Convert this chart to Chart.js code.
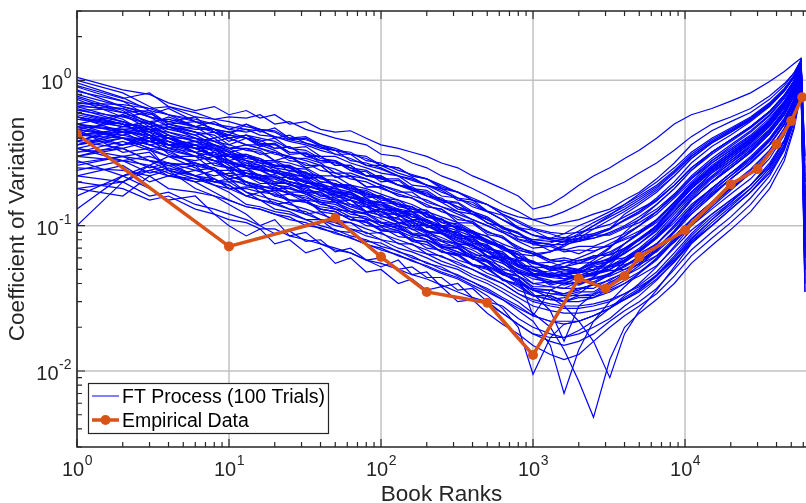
<!DOCTYPE html>
<html>
<head>
<meta charset="utf-8">
<script src="https://cdn.jsdelivr.net/npm/chart.js@4.4.1/dist/chart.umd.min.js"></script>
<style>
  html, body { margin: 0; padding: 0; background: #fff; }
</style>
</head>
<body>
<canvas id="cvChart" width="806" height="503"></canvas>
<script>
// rank grid shared by every simulated trial
const ranks = [1, 2, 3, 4, 6, 8, 10,
  13, 16, 20, 25, 32, 40, 50, 63, 80, 100, 130, 160, 200, 250, 320, 400, 500, 630, 800, 1000, 1300, 1600, 2000, 2500, 3200,
  4000, 5000, 6500, 8500, 11000, 15000, 20000, 27000, 36000, 45000, 52000, 58000,
  61500];

// FT process trials, coefficient of variation per rank (estimated from the figure)
const ftTrials = [
  [1.05,.86,.80,.70,.62,.66,.58, .62,.55,.58,.50,.52,.46,.44,.45,.40,.36,.34,.32,.30,.27,.25,.22,.20,.18,.16,.13,.14,.16,.19,.22,.25, .29,.33,.40,.50,.58,.64,.72,.82,.98,1.15,1.3,1.42, .2],
  [.92,.75,.82,.66,.60,.54,.56, .55,.58,.50,.52,.46,.43,.40,.38,.36,.31,.30,.27,.25,.22,.20,.18,.16,.14,.125,.11,.10,.105,.11,.12,.13, .15,.17,.21,.27,.36,.45,.52,.60,.74,.92,1.12,1.38, .15],
  [.80,.66,.58,.64,.52,.50,.46, .50,.44,.47,.40,.41,.36,.34,.31,.30,.26,.25,.22,.21,.18,.17,.15,.14,.12,.105,.094,.088,.082,.085,.088,.096, .11,.125,.155,.20,.27,.35,.42,.52,.66,.84,1.04,1.34, .3],
  [.42,.58,.50,.56,.48,.52,.46, .44,.46,.40,.42,.37,.34,.33,.28,.27,.25,.22,.21,.19,.175,.15,.145,.125,.11,.098,.086,.08,.076,.08,.082,.09, .10,.115,.14,.18,.24,.31,.38,.47,.60,.78,.98,1.3, .1],
  [.70,.64,.56,.52,.56,.44,.40, .42,.38,.40,.34,.33,.29,.28,.25,.24,.21,.21,.18,.175,.15,.145,.125,.115,.098,.09,.077,.074,.068,.072,.072,.08, .088,.10,.12,.155,.20,.27,.33,.41,.53,.70,.90,1.22, .05],
  [1.0,.82,.66,.58,.48,.46,.40, .36,.34,.31,.30,.26,.26,.215,.22,.185,.185,.16,.155,.135,.13,.105,.104,.087,.083,.068,.064,.056,.058,.055,.062,.063, .07,.08,.098,.13,.17,.22,.28,.35,.46,.62,.82,1.15, .08],
  [.62,.64,.50,.46,.48,.40,.42, .40,.36,.37,.32,.31,.30,.26,.26,.22,.22,.19,.18,.165,.15,.135,.125,.11,.098,.088,.078,.074,.074,.078,.085,.095, .12,.14,.17,.22,.29,.37,.44,.54,.68,.86,1.06,1.34, .12],
  [.56,.48,.52,.44,.38,.40,.34, .34,.31,.32,.28,.27,.24,.23,.21,.20,.18,.165,.155,.14,.125,.115,.104,.092,.082,.072,.064,.058,.056,.055,.056,.058, .06,.068,.082,.105,.14,.18,.23,.30,.40,.55,.74,1.08, .2],
  [.48,.46,.40,.42,.34,.35,.30, .30,.28,.26,.25,.22,.22,.19,.19,.16,.155,.14,.135,.115,.11,.095,.092,.078,.072,.06,.057,.049,.052,.049,.055,.056, .064,.075,.092,.125,.17,.23,.28,.36,.48,.64,.85,1.16, .06],
  [.36,.44,.42,.34,.36,.30,.31, .30,.28,.26,.26,.23,.22,.19,.19,.165,.16,.14,.135,.12,.11,.10,.09,.08,.072,.063,.056,.052,.05,.049,.05,.052, .054,.058,.066,.085,.11,.145,.18,.23,.32,.45,.64,.98, .035],
  [.54,.50,.42,.40,.36,.30,.28, .25,.22,.225,.20,.185,.18,.155,.16,.14,.12,.12,.10,.10,.09,.078,.074,.062,.06,.049,.045,.042,.039,.041,.041,.047, .052,.06,.074,.10,.135,.18,.23,.29,.39,.53,.72,1.05, .09],
  [.46,.40,.38,.40,.32,.28,.27, .23,.21,.21,.19,.18,.16,.155,.135,.135,.115,.113,.094,.093,.078,.076,.063,.062,.05,.048,.04,.041,.04,.044,.047,.057, .068,.08,.10,.135,.185,.25,.31,.39,.52,.70,.90,1.2, .15],
  [.32,.38,.33,.30,.30,.28,.27, .27,.26,.23,.23,.20,.195,.17,.17,.145,.145,.125,.125,.105,.10,.087,.083,.07,.066,.054,.052,.045,.047,.044,.048,.05, .058,.067,.083,.11,.15,.20,.25,.32,.43,.58,.78,1.1, .07],
  [.44,.36,.40,.31,.27,.25,.22, .20,.19,.175,.17,.15,.145,.13,.125,.11,.105,.095,.088,.08,.072,.066,.06,.053,.047,.041,.036,.034,.033,.033,.034,.036, .04,.045,.053,.07,.093,.12,.15,.19,.27,.39,.58,.93, .25],
  [.30,.28,.30,.27,.26,.27,.25, .26,.25,.23,.22,.195,.195,.165,.17,.14,.145,.12,.125,.10,.10,.085,.083,.069,.066,.053,.052,.046,.049,.047,.053,.057, .068,.08,.10,.135,.18,.24,.30,.38,.50,.67,.88,1.18, .04],
  [.64,.52,.44,.40,.34,.30,.26, .22,.21,.18,.18,.165,.145,.14,.125,.12,.104,.10,.087,.085,.072,.07,.059,.056,.046,.043,.036,.036,.034,.037,.037,.043, .047,.055,.068,.09,.12,.16,.21,.27,.36,.50,.70,1.02, .1],
  [.26,.30,.25,.27,.24,.22,.23, .22,.215,.195,.195,.17,.17,.145,.15,.125,.125,.105,.104,.09,.088,.075,.073,.061,.058,.047,.045,.039,.041,.039,.043,.045, .05,.057,.07,.092,.125,.165,.21,.27,.36,.50,.70,1.02, .18],
  [.22,.26,.20,.22,.21,.19,.18, .185,.18,.16,.15,.145,.13,.125,.11,.106,.093,.09,.08,.077,.066,.063,.054,.051,.043,.039,.033,.033,.03,.033,.033,.039, .045,.053,.067,.092,.13,.175,.22,.29,.39,.53,.72,1.04, .06],
  [.16,.22,.26,.30,.28,.30,.27, .26,.24,.24,.21,.205,.18,.175,.155,.155,.13,.128,.115,.108,.093,.09,.076,.072,.061,.056,.047,.046,.043,.045,.046,.053, .06,.07,.088,.12,.16,.215,.27,.35,.46,.62,.83,1.13, .13],
  [.10,.20,.26,.22,.24,.25,.22, .23,.22,.20,.195,.175,.17,.15,.15,.125,.13,.105,.108,.091,.09,.075,.074,.062,.058,.048,.046,.04,.042,.04,.044,.046, .053,.061,.075,.10,.135,.18,.23,.29,.39,.53,.72,1.05, .05],
  [.50,.44,.36,.32,.27,.24,.21, .17,.16,.15,.14,.13,.12,.11,.105,.095,.088,.08,.074,.068,.061,.056,.05,.045,.04,.034,.03,.028,.027,.027,.028,.03, .034,.039,.048,.065,.088,.12,.15,.19,.26,.38,.56,.9, .22],
  [.34,.30,.32,.24,.22,.21,.18, .16,.15,.14,.13,.125,.11,.105,.095,.09,.08,.076,.068,.064,.057,.052,.046,.042,.037,.032,.028,.026,.025,.025,.026,.028, .031,.035,.043,.056,.076,.10,.13,.17,.23,.34,.52,.87, .08],
  [.76,.60,.52,.46,.42,.36,.33, .28,.27,.24,.23,.215,.185,.185,.155,.155,.135,.13,.115,.11,.094,.09,.078,.074,.062,.058,.049,.048,.045,.048,.049,.057, .065,.075,.094,.125,.17,.23,.29,.37,.49,.65,.86,1.16, .11],
  [.42,.44,.46,.40,.36,.36,.32, .34,.33,.28,.30,.25,.26,.215,.22,.185,.185,.16,.155,.135,.13,.11,.107,.09,.085,.07,.066,.058,.06,.057,.062,.063, .07,.079,.096,.125,.165,.215,.27,.34,.45,.61,.81,1.12, .16],
  [.62,.56,.50,.42,.38,.36,.32, .30,.27,.275,.235,.235,.20,.195,.18,.17,.15,.145,.125,.123,.10,.099,.085,.08,.068,.063,.052,.051,.047,.048,.046,.049, .05,.054,.062,.077,.10,.13,.165,.21,.29,.42,.62,.97, .07],
  [.38,.34,.28,.27,.22,.19,.17, .14,.135,.125,.12,.11,.1,.094,.085,.08,.072,.067,.06,.056,.05,.046,.041,.037,.032,.028,.024,.022,.021,.022,.024,.027, .031,.036,.045,.06,.082,.11,.145,.19,.26,.38,.57,.92, .12],
  [.46,.32,.34,.24,.18,.16,.14, .12,.10,.11,.085,.09,.075,.07,.065,.058,.052,.058,.046,.048,.038,.04,.032,.03,.025,.021,.018,.016,.015,.016,.018,.022, .026,.03,.037,.05,.068,.09,.115,.155,.22,.33,.51,.86, .035],
  [.28,.22,.18,.15,.16,.12,.10, .085,.095,.075,.08,.065,.07,.055,.06,.048,.05,.04,.043,.036,.038,.03,.031,.025,.021,.018,.015,.013,.012,.013,.016,.02, .024,.028,.034,.045,.062,.082,.105,.14,.2,.3,.48,.84, .09],
  [.66,.54,.42,.36,.30,.24,.20, .17,.15,.145,.13,.12,.11,.10,.095,.085,.08,.07,.066,.06,.054,.05,.044,.04,.035,.03,.025,.02,.014,.0085,.0048,.012, .02,.025,.031,.04,.055,.073,.094,.125,.18,.28,.46,.82, .2],
  [.34,.28,.26,.23,.20,.17,.15, .135,.13,.12,.115,.10,.097,.088,.083,.074,.07,.062,.058,.052,.047,.043,.038,.033,.027,.02,.0095,.017,.021,.022,.024,.027, .031,.036,.045,.06,.08,.11,.14,.18,.25,.36,.55,.9, .06],
  [.56,.50,.42,.36,.34,.30,.28, .25,.245,.215,.215,.185,.19,.16,.165,.135,.14,.115,.12,.097,.098,.082,.081,.066,.064,.052,.05,.045,.047,.047,.054,.06, .075,.088,.11,.145,.195,.26,.32,.40,.53,.71,.92,1.24, .13],
  [.36,.42,.46,.44,.40,.38,.36, .40,.35,.365,.31,.315,.27,.275,.24,.235,.20,.205,.175,.17,.145,.143,.12,.113,.095,.089,.074,.072,.066,.068,.067,.073, .08,.088,.105,.135,.18,.235,.29,.37,.49,.65,.86,1.16, .1],
  [.86,.66,.60,.50,.44,.38,.34, .30,.29,.255,.255,.215,.215,.185,.185,.155,.16,.135,.135,.114,.11,.094,.09,.076,.072,.058,.056,.049,.05,.048,.052,.053, .058,.064,.075,.097,.13,.17,.22,.28,.38,.52,.71,1.04, .14],
  [.25,.24,.22,.24,.21,.20,.20, .20,.185,.185,.165,.16,.14,.135,.12,.115,.10,.098,.086,.085,.071,.07,.059,.057,.047,.045,.038,.038,.037,.041,.044,.054, .066,.08,.10,.14,.19,.255,.32,.40,.53,.71,.92,1.2, .05],
  [.54,.48,.46,.38,.34,.31,.30, .26,.255,.23,.225,.20,.19,.17,.165,.145,.14,.125,.12,.105,.098,.087,.08,.07,.064,.054,.049,.045,.045,.044,.047,.05, .057,.066,.082,.11,.15,.20,.25,.32,.43,.58,.78,1.1, .12],
  [.42,.40,.36,.33,.30,.28,.25, .23,.225,.20,.195,.17,.165,.145,.14,.125,.118,.105,.098,.088,.08,.073,.065,.058,.052,.045,.04,.038,.037,.037,.039,.042, .048,.055,.068,.092,.125,.165,.21,.27,.36,.5,.7,1.03, .07],
  [.70,.68,.64,.58,.54,.50,.48, .46,.42,.41,.38,.36,.33,.31,.29,.26,.245,.22,.205,.19,.17,.155,.14,.125,.11,.096,.086,.082,.08,.081,.086,.094, .11,.125,.15,.19,.25,.32,.39,.48,.61,.79,.99,1.3, .28],
  [.18,.16,.22,.18,.17,.16,.15, .135,.13,.12,.11,.105,.095,.09,.082,.075,.068,.063,.057,.053,.048,.044,.039,.035,.031,.027,.024,.022,.022,.022,.024,.027, .032,.037,.046,.062,.085,.115,.145,.19,.26,.38,.57,.92, .045],
  [.90,.72,.56,.48,.40,.36,.30, .28,.24,.235,.21,.20,.18,.17,.155,.145,.13,.125,.11,.102,.092,.085,.076,.068,.06,.053,.047,.044,.043,.043,.046,.05, .058,.068,.085,.115,.155,.21,.26,.33,.44,.6,.8,1.12, .17],
  [.32,.34,.28,.24,.26,.20,.19, .16,.17,.14,.145,.12,.125,.105,.105,.088,.09,.075,.075,.064,.062,.054,.05,.044,.04,.034,.031,.029,.028,.028,.029,.031, .034,.038,.045,.058,.078,.10,.13,.17,.23,.34,.52,.86, .1],
  [.20,.18,.15,.16,.13,.12,.11, .105,.095,.095,.085,.08,.075,.068,.065,.058,.055,.05,.046,.043,.039,.035,.032,.029,.025,.021,.018,.017,.017,.018,.02,.023, .028,.033,.042,.057,.078,.105,.135,.18,.25,.36,.55,.9, .15],
  [.66,.64,.56,.52,.48,.44,.42, .40,.39,.34,.35,.30,.30,.26,.26,.22,.22,.19,.185,.16,.155,.13,.125,.104,.099,.081,.077,.067,.069,.064,.071,.072, .082,.092,.11,.145,.19,.25,.31,.39,.51,.68,.89,1.2, .09],
  [.30,.36,.38,.34,.36,.33,.31, .31,.28,.28,.25,.245,.21,.205,.18,.175,.155,.15,.13,.128,.106,.103,.089,.085,.07,.066,.055,.056,.052,.058,.06,.071, .085,.10,.125,.165,.22,.29,.36,.45,.58,.76,.96,1.26, .11],
  [.48,.40,.34,.33,.26,.24,.22, .20,.185,.18,.165,.155,.145,.13,.125,.11,.105,.095,.088,.08,.073,.066,.06,.053,.047,.04,.036,.032,.028,.022,.016,.009, .018,.026,.036,.052,.075,.10,.13,.17,.24,.35,.54,.88, .04],
  [.50,.46,.44,.36,.38,.34,.30, .31,.29,.26,.26,.225,.22,.19,.19,.165,.16,.14,.135,.115,.112,.094,.092,.077,.073,.06,.057,.05,.052,.05,.055,.059, .07,.082,.10,.135,.18,.24,.30,.38,.5,.67,.88,1.18, .12],
  [.27,.30,.28,.26,.27,.24,.24, .24,.22,.215,.20,.19,.175,.165,.15,.14,.13,.12,.11,.10,.09,.083,.074,.066,.059,.052,.047,.045,.046,.05,.058,.07, .09,.11,.14,.18,.24,.32,.39,.48,.61,.79,.99,1.3, .09],
  [.60,.50,.40,.38,.32,.28,.25, .22,.195,.195,.17,.17,.145,.145,.125,.123,.106,.103,.089,.087,.074,.072,.061,.058,.048,.045,.037,.036,.033,.035,.035,.041, .045,.051,.062,.082,.11,.145,.185,.24,.33,.46,.66,1.0, .16],
  [.38,.48,.52,.54,.48,.46,.44, .46,.45,.41,.39,.37,.35,.31,.31,.26,.26,.23,.215,.19,.18,.155,.15,.126,.118,.097,.093,.081,.083,.078,.086,.086, .096,.105,.125,.16,.21,.27,.33,.41,.53,.70,.9,1.22, .13],
  [.78,.62,.48,.42,.34,.30,.24, .20,.17,.175,.15,.15,.13,.125,.11,.105,.092,.09,.078,.074,.066,.062,.053,.05,.043,.038,.033,.031,.03,.03,.032,.035, .04,.047,.058,.078,.105,.14,.18,.23,.31,.44,.64,.98, .22],
  [.22,.20,.24,.22,.20,.21,.18, .18,.17,.165,.15,.145,.13,.125,.11,.108,.094,.093,.079,.078,.066,.064,.054,.052,.042,.04,.033,.033,.03,.032,.032,.037, .042,.048,.059,.078,.105,.14,.18,.23,.31,.44,.64,.98, .07],
  [.50,.58,.46,.48,.44,.38,.40, .36,.36,.33,.29,.29,.27,.23,.23,.21,.19,.17,.17,.145,.135,.125,.11,.10,.09,.078,.07,.072,.078,.088,.10,.115, .13,.15,.18,.23,.30,.38,.45,.54,.68,.86,1.06,1.34, .1],
  [.68,.60,.62,.50,.52,.46,.40, .42,.37,.34,.35,.30,.28,.28,.24,.22,.21,.19,.175,.16,.145,.125,.12,.105,.092,.084,.08,.082,.088,.10,.11,.125, .14,.16,.19,.24,.31,.39,.46,.55,.69,.87,1.07,1.36, .18],
  [.34,.40,.36,.38,.32,.34,.28, .30,.27,.26,.25,.21,.215,.19,.175,.16,.155,.135,.13,.12,.10,.098,.085,.078,.07,.06,.055,.052,.055,.06,.066,.075, .085,.10,.125,.16,.21,.28,.35,.44,.57,.75,.95,1.26, .08],
  [.84,.72,.64,.66,.56,.54,.52, .48,.46,.44,.39,.40,.35,.33,.32,.28,.27,.24,.225,.21,.19,.17,.15,.14,.125,.115,.11,.115,.125,.14,.16,.18, .20,.23,.27,.33,.41,.50,.56,.64,.78,.95,1.12,1.38, .24],
  [.40,.36,.42,.34,.30,.32,.27, .25,.21,.22,.19,.185,.16,.165,.14,.135,.125,.11,.108,.092,.088,.08,.07,.066,.057,.05,.046,.044,.046,.05,.056,.064, .075,.09,.11,.145,.19,.25,.31,.39,.51,.69,.9,1.2, .14],
  [.24,.28,.23,.25,.22,.20,.21, .19,.185,.16,.165,.145,.135,.13,.115,.112,.10,.092,.084,.08,.07,.064,.06,.052,.046,.042,.036,.034,.034,.036,.04,.046, .056,.066,.082,.11,.15,.20,.26,.33,.45,.61,.82,1.13, .06],
  [.74,.56,.60,.48,.44,.42,.36, .33,.32,.28,.27,.25,.22,.22,.19,.18,.165,.15,.14,.125,.115,.105,.092,.084,.075,.068,.064,.066,.072,.082,.095,.11, .125,.145,.175,.22,.29,.37,.44,.53,.67,.85,1.05,1.34, .12],
  [.46,.42,.38,.36,.36,.30,.30, .27,.24,.24,.21,.21,.18,.18,.155,.15,.13,.13,.11,.11,.092,.09,.076,.073,.06,.057,.046,.047,.043,.046,.045,.052, .058,.068,.084,.11,.15,.20,.25,.32,.43,.58,.78,1.1, .09],
  [.38,.46,.48,.50,.46,.46,.42, .50,.46,.45,.40,.39,.36,.33,.31,.29,.26,.25,.22,.21,.185,.17,.155,.14,.12,.108,.096,.09,.088,.09,.095,.102, .115,.13,.15,.19,.25,.32,.39,.48,.61,.79,.99,1.3, .2],
  [.60,.52,.46,.40,.34,.34,.28, .22,.21,.19,.185,.165,.15,.145,.13,.12,.112,.10,.095,.084,.078,.07,.062,.057,.049,.042,.034,.026,.016,.028,.034,.04, .047,.055,.068,.09,.12,.16,.21,.27,.36,.5,.7,1.03, .11],
  [.30,.34,.38,.40,.34,.36,.34, .36,.34,.32,.30,.28,.26,.245,.22,.21,.19,.175,.16,.15,.135,.12,.11,.10,.09,.08,.075,.076,.082,.092,.105,.12, .135,.155,.185,.235,.30,.38,.45,.54,.68,.86,1.06,1.34, .15],
  [.56,.44,.42,.34,.32,.26,.25, .19,.18,.17,.145,.15,.125,.12,.115,.10,.098,.084,.082,.07,.068,.058,.054,.047,.043,.036,.033,.031,.032,.034,.04,.046, .056,.066,.083,.11,.15,.2,.25,.32,.43,.58,.78,1.1, .08],
  [.42,.46,.38,.36,.38,.32,.30, .28,.26,.25,.22,.22,.195,.18,.17,.15,.145,.13,.125,.11,.10,.092,.084,.076,.07,.064,.062,.066,.074,.086,.10,.118, .14,.165,.20,.25,.32,.40,.47,.56,.70,.88,1.08,1.36, .1],
  [.18,.20,.16,.17,.14,.13,.12, .11,.10,.088,.092,.078,.08,.066,.07,.058,.06,.05,.052,.044,.044,.036,.037,.03,.028,.023,.02,.018,.017,.019,.022,.027, .033,.04,.052,.072,.10,.135,.175,.23,.31,.44,.63,.97, .05],
  [.50,.40,.34,.30,.25,.21,.19, .16,.15,.13,.125,.11,.11,.092,.09,.078,.076,.066,.062,.055,.052,.045,.041,.036,.031,.026,.022,.015,.007,.014,.022,.03, .038,.047,.06,.08,.11,.145,.19,.245,.33,.47,.67,1.0, .1],
  [.36,.40,.40,.36,.32,.30,.30, .29,.28,.25,.24,.23,.20,.195,.175,.165,.145,.14,.125,.12,.105,.097,.088,.078,.07,.06,.055,.052,.052,.055,.06,.066, .075,.088,.108,.14,.185,.245,.31,.39,.51,.68,.89,1.19, .07],
  [.96,.76,.62,.58,.52,.46,.44, .40,.37,.36,.32,.32,.28,.27,.25,.22,.215,.19,.18,.16,.15,.135,.12,.11,.097,.088,.08,.078,.078,.082,.088,.096, .108,.122,.148,.19,.25,.32,.39,.48,.61,.79,.99,1.3, .3],
  [.13,.22,.24,.26,.22,.24,.21, .22,.205,.19,.18,.17,.155,.15,.135,.125,.118,.105,.10,.09,.083,.074,.068,.06,.055,.048,.043,.041,.042,.045,.05,.058, .068,.08,.10,.135,.18,.24,.30,.38,.5,.67,.88,1.18, .06],
  [.46,.52,.44,.48,.42,.44,.38, .42,.40,.38,.34,.35,.30,.30,.27,.25,.23,.22,.19,.185,.16,.155,.135,.125,.11,.095,.086,.08,.078,.078,.082,.088, .098,.11,.13,.165,.215,.28,.34,.42,.55,.72,.93,1.22, .12],
  [.58,.50,.48,.40,.40,.34,.32, .25,.24,.215,.20,.19,.175,.16,.15,.135,.125,.118,.105,.10,.088,.082,.072,.066,.056,.045,.024,.036,.04,.04,.043,.047, .053,.061,.075,.10,.135,.18,.23,.29,.39,.53,.72,1.05, .16]
];

// empirical data
const empiricalRanks = [1, 10, 50, 100, 200, 500, 1000, 2000, 3000, 4000, 5000, 10000, 20000, 30000, 40000, 50000, 59000];
const empiricalCV = [0.427, 0.072, 0.113, 0.061, 0.035, 0.0295, 0.0129, 0.0434, 0.037, 0.045, 0.061, 0.093, 0.193, 0.245, 0.364, 0.525, 0.764];

// axis ticks (value and its power of ten)
const xTickValues = [1, 10, 100, 1000, 10000];
const xTickExponents = ["0", "1", "2", "3", "4"];
const yTickValues = [0.01, 0.1, 1];
const yTickExponents = ["-2", "-1", "0"];

const FONT = '"Liberation Sans", Arial, Helvetica, sans-serif';
const AXIS_COLOR = "#262626";

function minorValues(min, max) {
  const out = [];
  for (let d = Math.pow(10, Math.floor(Math.log10(min))); d <= max; d *= 10) {
    for (let m = 2; m <= 9; m++) {
      const v = m * d;
      if (v >= min && v <= max) out.push(v);
    }
  }
  return out;
}

function drawPower(ctx, exp, x, baseline, align) {
  ctx.font = "20px " + FONT;
  const w10 = ctx.measureText("10").width;
  ctx.font = "14px " + FONT;
  const wExp = ctx.measureText(exp).width;
  let start = x;
  if (align === "center") start = x - (w10 + wExp) / 2;
  if (align === "right") start = x - (w10 + wExp);
  ctx.textAlign = "left";
  ctx.textBaseline = "alphabetic";
  ctx.font = "20px " + FONT;
  ctx.fillText("10", start, baseline);
  ctx.font = "14px " + FONT;
  ctx.fillText(exp, start + w10 + 0.5, baseline - 11);
}

const matlabAxes = {
  id: "matlabAxes",
  beforeDatasetsDraw(chart) {
    const { ctx, chartArea: a, scales } = chart;
    ctx.save();
    ctx.strokeStyle = "#c2c2c2";
    ctx.lineWidth = 1.5;
    ctx.beginPath();
    xTickValues.forEach(v => {
      const px = scales.x.getPixelForValue(v);
      ctx.moveTo(px, a.top);
      ctx.lineTo(px, a.bottom);
    });
    yTickValues.forEach(v => {
      const py = scales.y.getPixelForValue(v);
      ctx.moveTo(a.left, py);
      ctx.lineTo(a.right, py);
    });
    ctx.stroke();
    ctx.restore();
  },
  afterDraw(chart) {
    const { ctx, chartArea: a, scales } = chart;
    const xs = scales.x, ys = scales.y;
    ctx.save();

    // box (left, bottom, top)
    ctx.strokeStyle = AXIS_COLOR;
    ctx.lineWidth = 1.6;
    ctx.beginPath();
    ctx.moveTo(a.right, a.top);
    ctx.lineTo(a.left, a.top);
    ctx.lineTo(a.left, a.bottom);
    ctx.lineTo(a.right, a.bottom);
    ctx.stroke();

    // inward tick marks
    ctx.lineWidth = 1.2;
    ctx.beginPath();
    xTickValues.concat(minorValues(xs.min, xs.max)).forEach(v => {
      const len = xTickValues.includes(v) ? 8 : 5;
      const px = xs.getPixelForValue(v);
      ctx.moveTo(px, a.bottom);
      ctx.lineTo(px, a.bottom - len);
      ctx.moveTo(px, a.top);
      ctx.lineTo(px, a.top + len);
    });
    yTickValues.concat(minorValues(ys.min, ys.max)).forEach(v => {
      const len = yTickValues.includes(v) ? 8 : 5;
      const py = ys.getPixelForValue(v);
      ctx.moveTo(a.left, py);
      ctx.lineTo(a.left + len, py);
    });
    ctx.stroke();

    // tick labels
    ctx.fillStyle = AXIS_COLOR;
    xTickValues.forEach((v, i) => {
      drawPower(ctx, xTickExponents[i], xs.getPixelForValue(v), a.bottom + 29, "center");
    });
    yTickValues.forEach((v, i) => {
      drawPower(ctx, yTickExponents[i], a.left - 6, ys.getPixelForValue(v) + 9, "right");
    });

    // axis titles
    ctx.font = "22.5px " + FONT;
    ctx.textAlign = "center";
    ctx.textBaseline = "alphabetic";
    ctx.fillText("Book Ranks", (a.left + a.right) / 2, 501);
    ctx.save();
    ctx.translate(24, (a.top + a.bottom) / 2);
    ctx.rotate(-Math.PI / 2);
    ctx.fillText("Coefficient of Variation", 0, 0);
    ctx.restore();

    // legend
    const lx = 88.5, ly = 383.5, lw = 240, lh = 50;
    ctx.fillStyle = "#ffffff";
    ctx.fillRect(lx, ly, lw, lh);
    ctx.strokeStyle = AXIS_COLOR;
    ctx.lineWidth = 1.2;
    ctx.strokeRect(lx, ly, lw, lh);

    ctx.strokeStyle = "#0000ff";
    ctx.lineWidth = 1;
    ctx.beginPath();
    ctx.moveTo(92, 396);
    ctx.lineTo(119, 396);
    ctx.stroke();

    ctx.strokeStyle = "#d95319";
    ctx.lineWidth = 3.5;
    ctx.beginPath();
    ctx.moveTo(92, 420);
    ctx.lineTo(119, 420);
    ctx.stroke();
    ctx.fillStyle = "#d95319";
    ctx.beginPath();
    ctx.arc(105.5, 420, 5, 0, Math.PI * 2);
    ctx.fill();

    ctx.fillStyle = "#000000";
    ctx.font = "19.5px " + FONT;
    ctx.textAlign = "left";
    ctx.fillText("FT Process (100 Trials)", 122, 403);
    ctx.fillText("Empirical Data", 122, 427);
    ctx.restore();
  }
};

const trialDatasets = ftTrials.map((trial, i) => ({
  label: i === 0 ? "FT Process (100 Trials)" : "",
  data: trial.map((v, j) => ({ x: ranks[j], y: v })),
  borderColor: "#0000ff",
  borderWidth: 1.2,
  pointRadius: 0,
  tension: 0,
  fill: false,
  order: 1
}));

const empiricalDataset = {
  label: "Empirical Data",
  data: empiricalCV.map((v, j) => ({ x: empiricalRanks[j], y: v })),
  borderColor: "#d95319",
  backgroundColor: "#d95319",
  borderWidth: 3.5,
  pointRadius: 5,
  pointBorderWidth: 0,
  pointBackgroundColor: "#d95319",
  tension: 0,
  fill: false,
  order: 0
};

new Chart(document.getElementById("cvChart"), {
  type: "line",
  data: { datasets: [empiricalDataset].concat(trialDatasets) },
  options: {
    responsive: false,
    animation: false,
    events: [],
    layout: { autoPadding: false, padding: { left: 77, top: 11, right: 0, bottom: 56 } },
    plugins: { legend: { display: false }, tooltip: { enabled: false } },
    scales: {
      x: { type: "logarithmic", min: 1, max: 62500, display: false },
      y: { type: "logarithmic", min: 0.003, max: 3, display: false }
    }
  },
  plugins: [matlabAxes]
});
</script>
</body>
</html>
